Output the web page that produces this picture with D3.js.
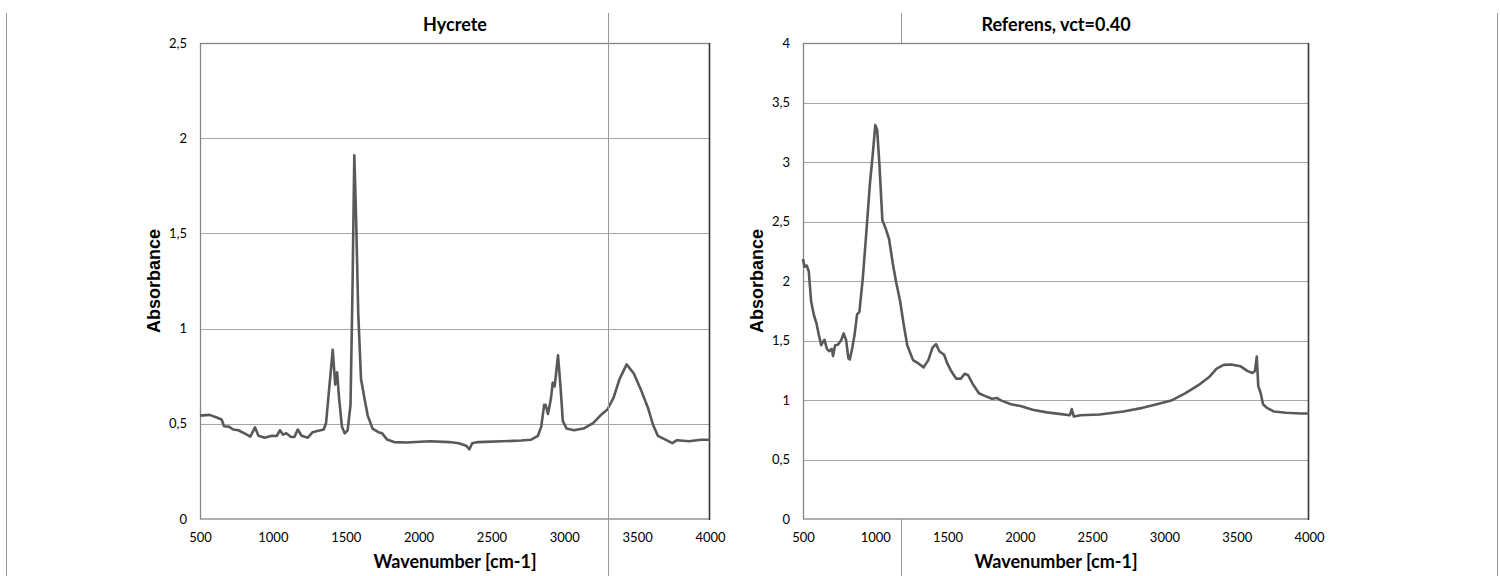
<!DOCTYPE html>
<html>
<head>
<meta charset="utf-8">
<script src="https://cdn.jsdelivr.net/npm/d3@7"></script>
<style>
  body { margin: 0; background: #fff; }
  svg { display: block; }
</style>
</head>
<body>
<div id="chart"></div>
<script>
// spectrum readings, wavenumber [cm-1] and absorbance
var hycreteWave = [500, 566, 615, 648, 665, 697, 730, 763, 812, 845, 878, 901, 944, 993, 1026, 1049, 1069, 1092, 1125, 1148, 1171, 1197, 1240, 1273, 1306, 1349, 1365, 1388, 1411, 1428, 1441, 1454, 1474, 1493, 1513, 1533, 1546, 1559, 1572, 1586, 1605, 1632, 1651, 1684, 1724, 1750, 1783, 1832, 1914, 2079, 2211, 2276, 2326, 2349, 2368, 2408, 2572, 2704, 2770, 2819, 2842, 2862, 2872, 2888, 2908, 2921, 2934, 2957, 2974, 2990, 3016, 3066, 3132, 3198, 3247, 3296, 3339, 3379, 3428, 3477, 3527, 3576, 3609, 3642, 3691, 3741, 3774, 3856, 3938, 4000];
var hycreteAbs = [0.543, 0.547, 0.533, 0.523, 0.487, 0.485, 0.47, 0.466, 0.447, 0.433, 0.481, 0.437, 0.427, 0.437, 0.436, 0.466, 0.443, 0.45, 0.431, 0.431, 0.47, 0.437, 0.427, 0.456, 0.462, 0.47, 0.504, 0.697, 0.889, 0.706, 0.77, 0.639, 0.485, 0.45, 0.466, 0.6, 1.18, 1.91, 1.56, 1.08, 0.735, 0.62, 0.543, 0.475, 0.456, 0.45, 0.418, 0.404, 0.402, 0.408, 0.404, 0.398, 0.385, 0.366, 0.398, 0.404, 0.408, 0.412, 0.416, 0.437, 0.485, 0.6, 0.6, 0.552, 0.63, 0.716, 0.697, 0.86, 0.697, 0.514, 0.475, 0.466, 0.475, 0.504, 0.543, 0.575, 0.639, 0.735, 0.812, 0.764, 0.677, 0.58, 0.495, 0.437, 0.418, 0.398, 0.414, 0.408, 0.416, 0.416];

var referensWave = [500, 510, 526, 540, 556, 576, 593, 609, 626, 639, 649, 665, 682, 698, 708, 722, 741, 765, 781, 798, 814, 824, 841, 857, 874, 890, 913, 937, 963, 983, 1000, 1013, 1029, 1049, 1069, 1095, 1122, 1145, 1172, 1195, 1221, 1261, 1301, 1334, 1367, 1396, 1420, 1443, 1476, 1499, 1525, 1559, 1592, 1618, 1641, 1674, 1717, 1757, 1807, 1840, 1873, 1939, 2005, 2088, 2187, 2286, 2346, 2359, 2373, 2419, 2551, 2716, 2849, 2948, 3047, 3146, 3246, 3312, 3361, 3411, 3461, 3527, 3576, 3609, 3626, 3639, 3649, 3666, 3682, 3709, 3758, 3841, 3940, 4000];
var referensAbs = [2.186, 2.12, 2.13, 2.08, 1.83, 1.71, 1.645, 1.55, 1.46, 1.49, 1.505, 1.43, 1.41, 1.43, 1.37, 1.46, 1.465, 1.505, 1.56, 1.505, 1.35, 1.34, 1.44, 1.55, 1.72, 1.74, 2.015, 2.39, 2.82, 3.07, 3.31, 3.27, 2.97, 2.51, 2.45, 2.355, 2.14, 1.985, 1.83, 1.645, 1.46, 1.335, 1.305, 1.274, 1.335, 1.44, 1.47, 1.41, 1.38, 1.305, 1.243, 1.18, 1.18, 1.22, 1.21, 1.135, 1.057, 1.035, 1.01, 1.017, 0.995, 0.964, 0.949, 0.918, 0.896, 0.881, 0.872, 0.924, 0.862, 0.872, 0.878, 0.903, 0.934, 0.964, 0.995, 1.057, 1.134, 1.196, 1.264, 1.295, 1.298, 1.283, 1.243, 1.227, 1.243, 1.366, 1.119, 1.057, 0.964, 0.934, 0.903, 0.893, 0.887, 0.887];

var xTicks = [500, 1000, 1500, 2000, 2500, 3000, 3500, 4000];
var hycreteYTicks = [0, 0.5, 1, 1.5, 2, 2.5];
var referensYTicks = [0, 0.5, 1, 1.5, 2, 2.5, 3, 3.5, 4];

var W = 1500, H = 576;
var svOrigin = d3.formatLocale({decimal: ",", thousands: "", grouping: [3], currency: ["", ""]});
var fmtY = svOrigin.format("~g");

var svg = d3.select("#chart").append("svg").attr("width", W).attr("height", H);

// page borders behind/around the charts
function pageLine(x) {
  svg.append("line").attr("x1", x).attr("x2", x).attr("y1", 13).attr("y2", H)
    .attr("stroke", "#9a9a9a").attr("stroke-width", 1);
}
pageLine(6.5);
pageLine(901.5);
pageLine(1497.5);

function drawPanel(p) {
  var x = d3.scaleLinear().domain([500, 4000]).range([p.left, p.right]);
  var y = d3.scaleLinear().domain([0, p.yMax]).range([519, 43]);
  var g = svg.append("g");

  g.append("rect").attr("x", p.left).attr("y", 43)
    .attr("width", p.right - p.left).attr("height", 476).attr("fill", "#fff");

  // horizontal grid
  g.append("g").selectAll("line").data(p.yTicks.filter(function(d) { return d > 0 && d < p.yMax; }))
    .join("line")
    .attr("x1", p.left).attr("x2", p.right)
    .attr("y1", function(d) { return Math.round(y(d)) + 0.5; })
    .attr("y2", function(d) { return Math.round(y(d)) + 0.5; })
    .attr("stroke", "#a6a6a6").attr("stroke-width", 1.2);

  // plot border
  g.append("rect").attr("x", p.left + 0.5).attr("y", 43.5)
    .attr("width", p.right - p.left - 1).attr("height", 475.5)
    .attr("fill", "none").attr("stroke", "#858585").attr("stroke-width", 1.3);
  g.append("line").attr("x1", p.right - 0.5).attr("x2", p.right - 0.5).attr("y1", 43).attr("y2", 520)
    .attr("stroke", "#3a3a3a").attr("stroke-width", 1.5);

  var line = d3.line()
    .x(function(d) { return x(d[0]); })
    .y(function(d) { return y(d[1]); });
  var pts = p.wave.map(function(w, i) { return [w, p.abs[i]]; });
  g.append("path").datum(pts).attr("d", line)
    .attr("fill", "none").attr("stroke", "#595959").attr("stroke-width", 2.6)
    .attr("stroke-linejoin", "round");

  // axes, labels only
  var xa = g.append("g").attr("transform", "translate(0,530)")
    .call(d3.axisBottom(x).tickValues(xTicks).tickSize(0).tickFormat(d3.format("d")));
  xa.select(".domain").remove();
  xa.selectAll("text").attr("font-family", "Lato, 'Open Sans', sans-serif")
    .attr("font-size", 13).attr("fill", "#000").attr("dy", "0.71em");

  var ya = g.append("g").attr("transform", "translate(" + (p.left - 13) + ",0)")
    .call(d3.axisLeft(y).tickValues(p.yTicks).tickSize(0).tickFormat(fmtY));
  ya.select(".domain").remove();
  ya.selectAll("text").attr("font-family", "Lato, 'Open Sans', sans-serif")
    .attr("font-size", 13).attr("fill", "#000").attr("x", 0);

  g.append("text").attr("x", (p.left + p.right) / 2).attr("y", 31)
    .attr("text-anchor", "middle").attr("font-family", "Lato, sans-serif")
    .attr("font-weight", "bold").attr("font-size", 18).text(p.title);

  g.append("text").attr("x", (p.left + p.right) / 2).attr("y", 568)
    .attr("text-anchor", "middle").attr("font-family", "Lato, sans-serif")
    .attr("font-weight", "bold").attr("font-size", 18).text("Wavenumber [cm-1]");

  g.append("text")
    .attr("transform", "translate(" + p.yLabelX + ",281) rotate(-90)")
    .attr("text-anchor", "middle").attr("font-family", "'Liberation Sans', Arial, sans-serif")
    .attr("font-weight", "bold").attr("font-size", 18).text("Absorbance");
}

drawPanel({ title: "Hycrete", left: 200, right: 710, yMax: 2.5, yTicks: hycreteYTicks,
  wave: hycreteWave, abs: hycreteAbs, yLabelX: 160 });
drawPanel({ title: "Referens, vct=0.40", left: 803, right: 1309, yMax: 4, yTicks: referensYTicks,
  wave: referensWave, abs: referensAbs, yLabelX: 763 });

// this border sits over the left plot
pageLine(608.5);
</script>
</body>
</html>
